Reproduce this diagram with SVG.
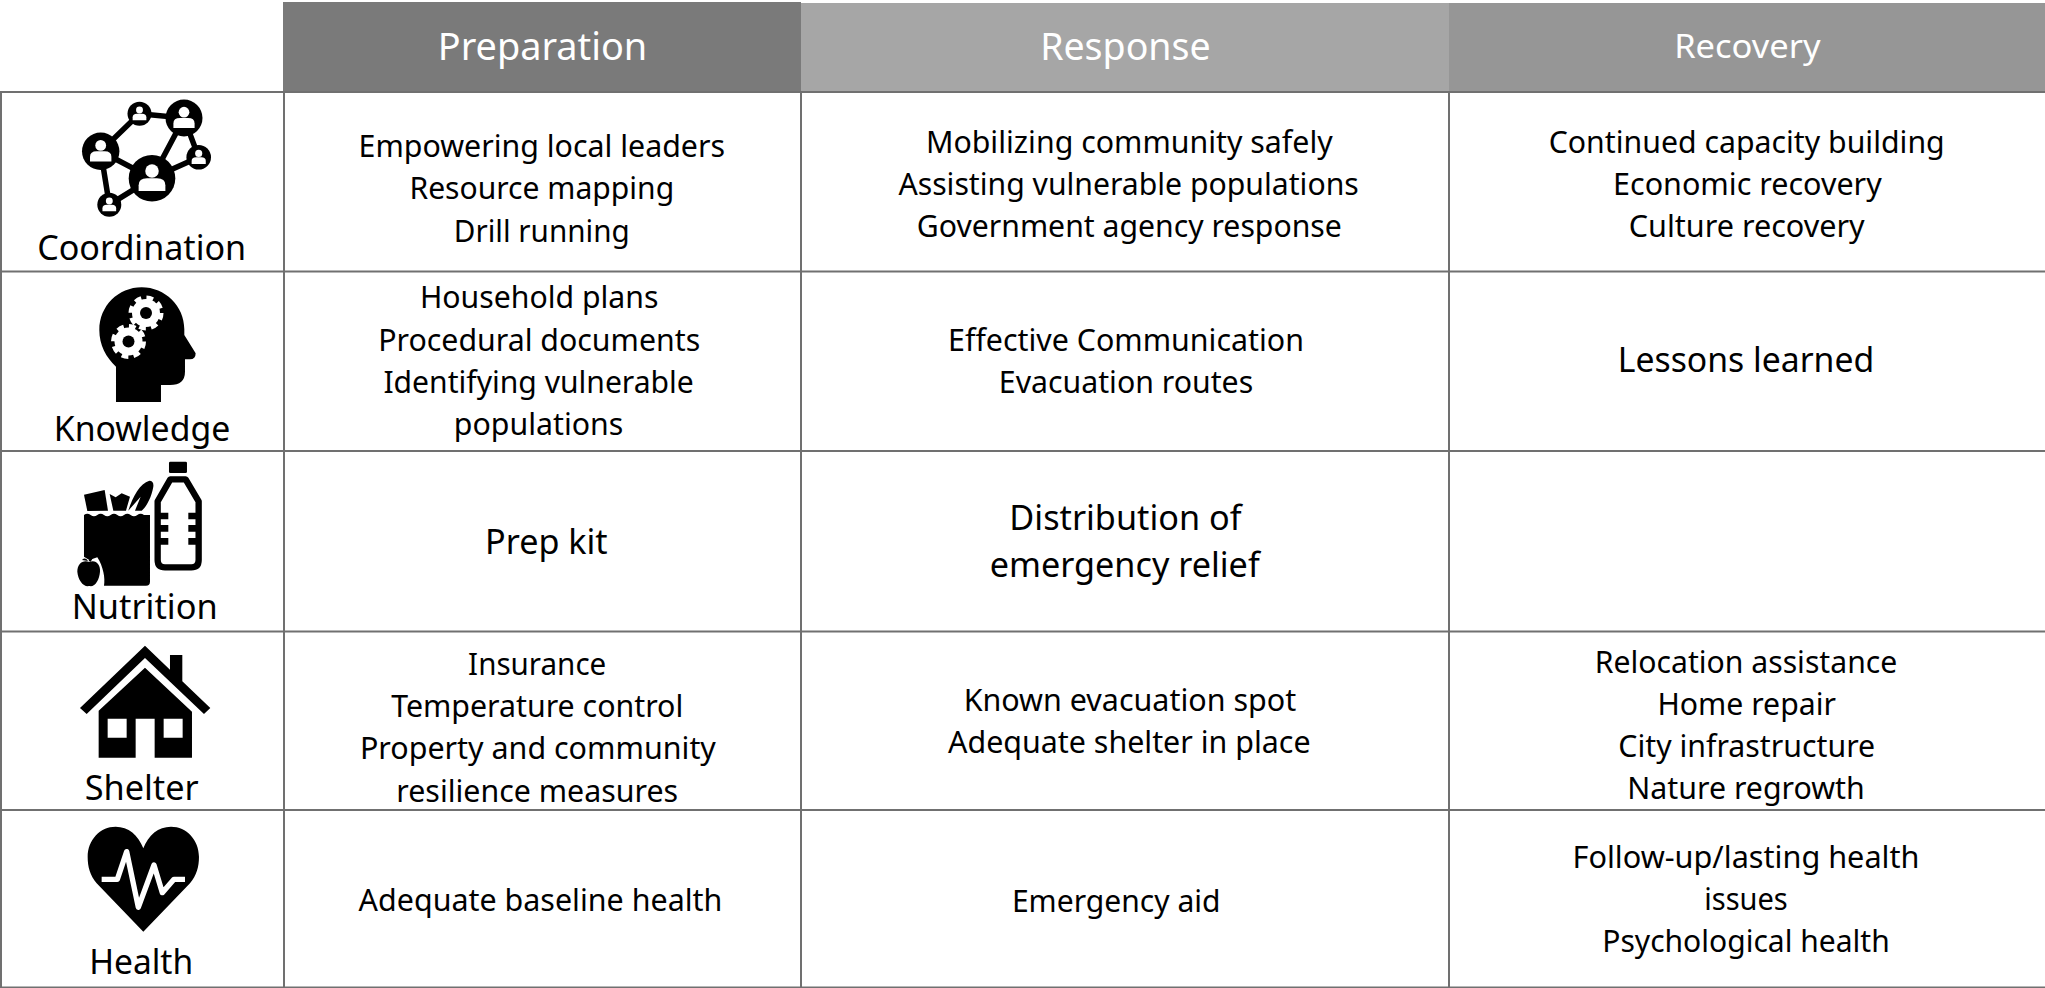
<svg xmlns="http://www.w3.org/2000/svg" width="2045" height="988" viewBox="0 0 2045 988">
<style>
text{font-family:"Noto Sans","Open Sans",sans-serif;text-anchor:middle;fill:#000;font-size:31px}
.l{font-size:34.500px}
.b{font-size:35px}
.h{fill:#fff;font-size:38px}
.g{stroke:#707070;stroke-width:2;fill:none}
.w{fill:#fff}
.k{fill:#000}
</style>
<defs>
<g id="person"><circle class="w" cx="0" cy="-5.900" r="5.400"/><path class="w" d="M-10.700 10.200V5.500Q-10.700 0 -4 0H4Q10.700 0 10.700 5.500V10.200Z"/></g>
<g id="gear"><circle class="w" r="14"/><circle r="14.500" fill="none" stroke="#fff" stroke-width="6" stroke-dasharray="6.400 4.990"/><circle class="k" r="6"/></g>
</defs>
<rect width="2045" height="988" fill="#fff"/>
<g id="headers">
<rect x="283" y="2" width="518" height="90" fill="#7a7a7a"/>
<rect x="801" y="3" width="648" height="89" fill="#a6a6a6"/>
<rect x="1449" y="3" width="596" height="89" fill="#969696"/>
<text class="h" x="542.500" y="60" textLength="209.500" lengthAdjust="spacingAndGlyphs">Preparation</text>
<text class="h" x="1125.400" y="60" textLength="170.500" lengthAdjust="spacingAndGlyphs">Response</text>
<text class="h" x="1747.400" y="58" style="font-size:33px" textLength="146.500" lengthAdjust="spacingAndGlyphs">Recovery</text>
</g>
<g id="grid">
<path class="g" d="M0 92H2045M0 271.500H2045M0 451H2045M0 631.500H2045M0 810H2045M0 987.500H2045"/>
<path class="g" d="M1 92V988M284 92V988M801 92V988M1449 92V988"/>
</g>
<g id="coordination">
<path fill="none" stroke="#000" stroke-width="5.500" d="M139.500 113.700L184 118L152 178.300L100.700 151.300L139.500 113.700M184 118L198.700 157.300L152 178.300L109.300 204.700L100.700 151.300"/>
<circle class="k" cx="139.500" cy="113.700" r="12"/><circle class="k" cx="184" cy="118" r="18.500"/><circle class="k" cx="100.700" cy="151.300" r="18.700"/><circle class="k" cx="152" cy="178.300" r="23.300"/><circle class="k" cx="198.700" cy="157.300" r="12.300"/><circle class="k" cx="109.300" cy="204.700" r="12"/>
<use href="#person" transform="translate(139.500 113.700) scale(.64)"/>
<use href="#person" transform="translate(184 118) scale(.99)"/>
<use href="#person" transform="translate(100.700 151.300)"/>
<use href="#person" transform="translate(152 178.300) scale(1.25)"/>
<use href="#person" transform="translate(198.700 157.300) scale(.66)"/>
<use href="#person" transform="translate(109.300 204.700) scale(.64)"/>
<text class="l" x="141.700" y="259.500" textLength="209" lengthAdjust="spacingAndGlyphs">Coordination</text>
</g>
<g id="knowledge">
<g transform="translate(0 270) scale(.3333)">
<path class="k" d="M348 396V290C318 262 298 225 298 180C298 108 355 52 425 52C495 52 553 108 553 178V195L587 250Q587 268 570 268H555V305Q555 345 510 345H483V396Z"/>
</g>
<use href="#gear" transform="translate(146 313)"/>
<use href="#gear" transform="translate(128.500 341.500)"/>
<text class="l" x="142" y="440.700" textLength="176.500" lengthAdjust="spacingAndGlyphs">Knowledge</text>
</g>
<g id="nutrition">
<g transform="translate(0 270) scale(.3333)">
<path class="k" d="M252 735Q262 728 272 735T292 735T312 735T332 735T352 735T372 735T392 735T412 735T432 735L450 735V935Q450 947 438 947H312C316 925 310 890 292 862L268 870L252 860Z"/>
<path class="k" d="M252 674L314 660L324 722L262 723Z"/>
<path class="k" d="M329 672L347 682L365 670L390 680L378 722H340Z"/>
<path class="k" d="M385 722C398 680 420 640 448 632Q462 632 460 650C455 680 440 710 425 722H405L422 680Z"/>
<path class="k" d="M232 905C232 880 250 868 268 876C286 868 302 882 300 905C298 930 285 952 268 948C250 952 234 930 232 905Z"/>
<path class="k" d="M264 873Q256 860 246 870ZM266 873L272 860L280 862L272 875Z"/>
<rect class="k" x="507" y="575" width="54" height="34" rx="4"/>
<path d="M511 628H557L596 694V870Q596 892 574 892H495Q473 892 473 870V694Z" fill="none" stroke="#000" stroke-width="19" stroke-linejoin="round"/>
<path class="k" d="M470 728H505V748H470ZM470 765H505V785H470ZM470 804H505V824H470ZM565 728H600V748H565ZM565 765H600V785H565ZM565 804H600V824H565Z"/>
</g>
<text class="l" x="144.700" y="618.500" textLength="146" lengthAdjust="spacingAndGlyphs">Nutrition</text>
</g>
<g id="shelter">
<g transform="translate(0 620) scale(.3333)">
<path class="k" d="M240 264L435 77L510 149V105H547V184L631 264L612 282L435 114L260 282Z"/>
<path class="k" fill-rule="evenodd" d="M435 143L576 275V413H464V296H407V413H296V272ZM323 296V353H380V296ZM491 296V353H548V296Z"/>
</g>
<text class="l" x="141.700" y="800" textLength="114" lengthAdjust="spacingAndGlyphs">Shelter</text>
</g>
<g id="health">
<g transform="translate(0 620) scale(.3333)">
<path class="k" d="M430 935L290 790C270 765 263 740 263 710C263 660 300 620 347 620C385 620 415 645 430 685C445 645 475 620 513 620C560 620 597 660 597 710C597 740 590 765 570 790Z"/>
<path d="M305 778H352L380 695L415 862L462 735L487 818L522 778H555" fill="none" stroke="#fff" stroke-width="16" stroke-linejoin="round"/>
</g>
<text class="l" x="141.200" y="974" textLength="104" lengthAdjust="spacingAndGlyphs">Health</text>
</g>
<g id="preparation-cells">
<text x="541.800" y="156.500" textLength="366.400" lengthAdjust="spacingAndGlyphs">Empowering local leaders</text>
<text x="541.800" y="198.700" textLength="264.700" lengthAdjust="spacingAndGlyphs">Resource mapping</text>
<text x="541.800" y="241.500" textLength="176" lengthAdjust="spacingAndGlyphs">Drill running</text>
<text x="539.200" y="307.700" textLength="238.600" lengthAdjust="spacingAndGlyphs">Household plans</text>
<text x="539.200" y="350.500" textLength="322" lengthAdjust="spacingAndGlyphs">Procedural documents</text>
<text x="538.600" y="392.700" textLength="310.400" lengthAdjust="spacingAndGlyphs">Identifying vulnerable</text>
<text x="538.600" y="435" textLength="169.500" lengthAdjust="spacingAndGlyphs">populations</text>
<text class="b" x="546.400" y="553.500" textLength="122.600" lengthAdjust="spacingAndGlyphs">Prep kit</text>
<text x="537.200" y="675" textLength="138.200" lengthAdjust="spacingAndGlyphs">Insurance</text>
<text x="537.200" y="716.500" textLength="292.100" lengthAdjust="spacingAndGlyphs">Temperature control</text>
<text x="537.900" y="758.900" textLength="356" lengthAdjust="spacingAndGlyphs">Property and community</text>
<text x="537.200" y="802" textLength="281.700" lengthAdjust="spacingAndGlyphs">resilience measures</text>
<text x="540.500" y="910.700" textLength="363.800" lengthAdjust="spacingAndGlyphs">Adequate baseline health</text>
</g>
<g id="response-cells">
<text x="1129.300" y="152.600" textLength="406.800" lengthAdjust="spacingAndGlyphs">Mobilizing community safely</text>
<text x="1128.600" y="195" textLength="460.300" lengthAdjust="spacingAndGlyphs">Assisting vulnerable populations</text>
<text x="1129.300" y="237.300" textLength="425.100" lengthAdjust="spacingAndGlyphs">Government agency response</text>
<text x="1126" y="350.800" textLength="356" lengthAdjust="spacingAndGlyphs">Effective Communication</text>
<text x="1126" y="392.500" textLength="254.300" lengthAdjust="spacingAndGlyphs">Evacuation routes</text>
<text class="b" x="1125.400" y="530.200" textLength="232.100" lengthAdjust="spacingAndGlyphs">Distribution of</text>
<text class="b" x="1124.700" y="577.200" textLength="269.900" lengthAdjust="spacingAndGlyphs">emergency relief</text>
<text x="1129.900" y="710.700" textLength="332.500" lengthAdjust="spacingAndGlyphs">Known evacuation spot</text>
<text x="1129.300" y="753" textLength="362.500" lengthAdjust="spacingAndGlyphs">Adequate shelter in place</text>
<text x="1116.200" y="911.500" textLength="208.600" lengthAdjust="spacingAndGlyphs">Emergency aid</text>
</g>
<g id="recovery-cells">
<text x="1746.700" y="152.600" textLength="396" lengthAdjust="spacingAndGlyphs">Continued capacity building</text>
<text x="1747.400" y="195" textLength="268.600" lengthAdjust="spacingAndGlyphs">Economic recovery</text>
<text x="1746.700" y="237.300" textLength="236" lengthAdjust="spacingAndGlyphs">Culture recovery</text>
<text class="b" x="1746" y="371.600" textLength="256.500" lengthAdjust="spacingAndGlyphs">Lessons learned</text>
<text x="1746" y="672.900" textLength="302.500" lengthAdjust="spacingAndGlyphs">Relocation assistance</text>
<text x="1746.700" y="714.600" textLength="178.600" lengthAdjust="spacingAndGlyphs">Home repair</text>
<text x="1746.700" y="757" textLength="256.900" lengthAdjust="spacingAndGlyphs">City infrastructure</text>
<text x="1746" y="799.400" textLength="237.300" lengthAdjust="spacingAndGlyphs">Nature regrowth</text>
<text x="1746" y="867.500" textLength="346.900" lengthAdjust="spacingAndGlyphs">Follow-up/lasting health</text>
<text x="1746" y="910.200" textLength="83.500" lengthAdjust="spacingAndGlyphs">issues</text>
<text x="1746" y="951.900" textLength="287.500" lengthAdjust="spacingAndGlyphs">Psychological health</text>
</g>
</svg>
